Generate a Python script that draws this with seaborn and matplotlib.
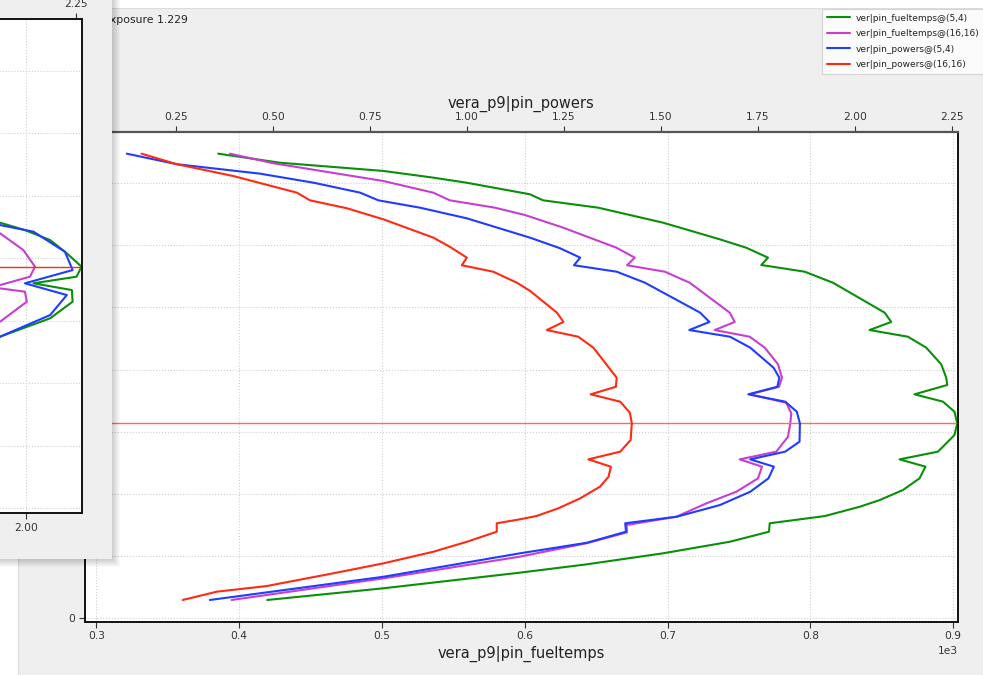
import matplotlib
matplotlib.use("Agg")
import matplotlib.pyplot as plt
import seaborn as sns
from matplotlib.patches import Rectangle

# ---------------- data ----------------
# fuel temperatures (K) vs axial height (cm)
fuel54_y = [373.9, 366.6, 360.0, 354.6, 350.5, 341.2, 336.3, 330.4, 318.3, 304.9, 298.1, 290.1, 284.2, 278.8,
            269.9, 245.8, 238.3, 231.8, 226.4, 217.6, 204.2, 193.4, 187.5, 180.0, 174.1, 166.0, 156.6, 147.2,
            133.8, 127.6, 121.7, 112.3, 102.9, 94.8, 89.4, 81.9, 76.1, 69.3, 61.2, 51.9, 43.0, 36.3, 23.7, 14.3]
fuel54_x = [385.3, 428.5, 500.8, 535.8, 559.2, 603.5, 612.8, 651.3, 696.8, 736.5, 755.1, 770.3, 765.6, 796.0,
            815.8, 852.0, 856.6, 841.4, 868.3, 881.1, 891.6, 895.1, 895.8, 872.9, 892.8, 900.9, 902.8, 900.9,
            889.3, 862.4, 880.6, 876.4, 864.8, 848.5, 834.5, 810.0, 771.5, 771.0, 743.5, 696.8, 643.2, 596.5,
            500.8, 419.6]
fuel1616_y = [373.9, 366.2, 351.9, 342.5, 336.3, 330.4, 324.5, 314.3, 298.1, 290.1, 284.0, 278.8, 269.9, 245.8,
              238.3, 231.8, 226.4, 217.6, 204.2, 193.4, 186.1, 180.0, 173.2, 164.7, 156.6, 145.8, 133.8, 127.6,
              121.7, 112.3, 101.5, 92.2, 81.4, 74.7, 68.8, 60.0, 49.2, 31.7, 14.3]
fuel1616_x = [393.5, 423.8, 500.8, 535.8, 547.5, 579.0, 600.0, 626.8, 664.2, 677.0, 671.6, 698.0, 715.5, 743.5,
              747.0, 733.0, 757.5, 768.0, 777.3, 780.1, 778.0, 757.5, 783.1, 786.6, 785.9, 784.3, 776.1, 750.5,
              766.1, 763.3, 748.1, 727.2, 706.2, 671.2, 671.6, 643.2, 596.5, 500.8, 394.7]
# pin powers vs axial height
pow54_y = [373.9, 365.4, 357.8, 350.5, 342.5, 336.3, 330.4, 321.8, 306.2, 297.7, 290.1, 284.0, 278.8, 269.9,
           245.8, 238.3, 231.8, 226.4, 217.6, 201.5, 193.4, 186.1, 180.0, 174.1, 166.0, 156.6, 141.8, 133.8,
           127.6, 121.7, 112.3, 101.5, 90.8, 81.4, 76.1, 69.3, 60.4, 51.9, 33.0, 14.3]
pow54_x = [0.124, 0.253, 0.467, 0.605, 0.725, 0.772, 0.879, 1.000, 1.163, 1.240, 1.292, 1.276, 1.386, 1.459,
           1.601, 1.625, 1.573, 1.678, 1.730, 1.790, 1.805, 1.800, 1.725, 1.820, 1.850, 1.858, 1.857, 1.820,
           1.730, 1.791, 1.777, 1.730, 1.652, 1.541, 1.408, 1.410, 1.309, 1.137, 0.785, 0.338]
pow1616_y = [373.9, 365.4, 355.9, 342.5, 336.3, 329.9, 321.0, 306.2, 298.7, 290.1, 284.0, 278.8, 269.9, 263.3,
             245.8, 238.3, 231.8, 226.4, 217.6, 193.4, 186.1, 180.0, 174.1, 165.2, 156.6, 143.2, 133.8, 127.6,
             121.7, 113.6, 105.6, 96.2, 88.2, 82.0, 79.3, 76.1, 69.3, 61.2, 53.2, 43.8, 35.8, 25.5, 21.0, 14.3]
pow1616_x = [0.162, 0.253, 0.398, 0.562, 0.596, 0.691, 0.785, 0.914, 0.957, 1.000, 0.987, 1.068, 1.129, 1.163,
             1.232, 1.249, 1.206, 1.287, 1.326, 1.386, 1.384, 1.319, 1.395, 1.420, 1.425, 1.422, 1.395, 1.313,
             1.371, 1.365, 1.343, 1.292, 1.236, 1.180, 1.137, 1.077, 1.077, 1.000, 0.914, 0.785, 0.656, 0.484,
             0.356, 0.268]
selected_level = 156.6
labels = ["ver|pin_fueltemps@(5,4)", "ver|pin_fueltemps@(16,16)",
          "ver|pin_powers@(5,4)", "ver|pin_powers@(16,16)"]
colors = ["#0a8f0a", "#c63fd0", "#1f3cff", "#ff2a12"]
bottom_ticks = [300, 400, 500, 600, 700, 800, 900]
top_ticks = [0.25, 0.50, 0.75, 1.00, 1.25, 1.50, 1.75, 2.00, 2.25]
y_ticks = [0, 50, 100, 150, 200, 250, 300, 350]
y_ticklabels = ["0", "", "", "", "", "", "", ""]
exposure_text = "Exposure 1.229"

# overlapping second window (partially visible plot)
ov_green_x = [1.831, 1.934, 1.998, 2.063, 2.106, 2.144, 2.131, 2.020, 2.119, 2.121, 2.063, 1.934, 1.831]
ov_green_y = [238.6, 228.5, 222.6, 214.6, 204.0, 193.3, 185.3, 180.0, 174.6, 165.3, 152.0, 137.3, 125.5]
ov_blue_x = [1.831, 1.934, 2.020, 2.101, 2.121, 1.998, 2.106, 2.063, 1.934, 1.831]
ov_blue_y = [236.0, 226.6, 221.3, 205.3, 190.6, 180.0, 170.6, 154.6, 137.3, 126.0]
ov_mag_x = [1.831, 1.934, 1.994, 2.024, 2.011, 1.934, 1.908, 1.998, 2.003, 1.934, 1.831]
ov_mag_y = [232.0, 220.0, 206.6, 193.3, 185.3, 178.6, 177.0, 173.3, 165.3, 149.3, 137.0]
ov_level = 193.3

# ---------------- figure ----------------
sns.set_style("ticks")
plt.rcParams["font.family"] = ["DejaVu Sans"]

W, H = 983, 675
fig = plt.figure(figsize=(W / 100, H / 100), dpi=100, facecolor="white")


def fx(px):
    return px / W


def fy(py):
    return 1 - py / H


# background window
bg = fig.add_axes([0, 0, 1, 1])
bg.set_axis_off()
bg.set_xlim(0, W)
bg.set_ylim(H, 0)
bg.set_zorder(0)
bg.add_patch(Rectangle((18, 8), W - 18, H - 8, fc="#efefef", ec="#dcdcdc", lw=0.8))
bg.text(103, 20, exposure_text, fontsize=7.8, va="center", ha="left", color="#222222")

# main axes
ax = fig.add_axes([fx(85), fy(621.7), fx(957.5) - fx(85), (621.7 - 131.7) / H])
ax.set_zorder(2)
ax.set_facecolor("white")
ax2 = ax.twiny()
ax2.set_zorder(3)
ax2.patch.set_visible(False)

lw = 1.5
sns.lineplot(x=fuel54_x, y=fuel54_y, sort=False, estimator=None, ax=ax, color=colors[0],
             lw=lw, label=labels[0], legend=False)
sns.lineplot(x=fuel1616_x, y=fuel1616_y, sort=False, estimator=None, ax=ax, color=colors[1],
             lw=lw, label=labels[1], legend=False)
sns.lineplot(x=pow54_x, y=pow54_y, sort=False, estimator=None, ax=ax2, color=colors[2],
             lw=lw, label=labels[2], legend=False)
sns.lineplot(x=pow1616_x, y=pow1616_y, sort=False, estimator=None, ax=ax2, color=colors[3],
             lw=lw, label=labels[3], legend=False)
ax.axhline(selected_level, color="#ff6a5a", lw=1.0, zorder=5)

ax.set_xlim(292, 903)
ax.set_ylim(-3.2, 391.6)
ax2.set_xlim(0.0163, 2.264)
ax2.set_ylim(-3.2, 391.6)
ax.set_xticks(bottom_ticks)
ax.set_yticks(y_ticks)
ax.set_yticklabels(y_ticklabels)
ax.ticklabel_format(axis="x", style="sci", scilimits=(3, 3))
ax2.set_xticks(top_ticks)
ax2.set_xticklabels([f"{t:.2f}" for t in top_ticks])

ax.grid(True, ls=":", color="#cfcfcf", lw=0.8)
ax2.grid(False)
for a in (ax, ax2):
    a.tick_params(direction="out", length=4, width=0.8, labelsize=7.7, colors="#333333",
                  labelcolor="#333333", pad=3)
    for s in a.spines.values():
        s.set_color("#111111")
        s.set_linewidth(1.2)
ax2.spines["top"].set_color("#555555")
ax2.spines["top"].set_linewidth(1.6)
ax.xaxis.get_offset_text().set_fontsize(7.7)
ax.xaxis.get_offset_text().set_color("#333333")
ax.set_xlabel("vera_p9|pin_fueltemps", fontsize=10.5, color="#222222", labelpad=3)
ax2.set_xlabel("vera_p9|pin_powers", fontsize=10.5, color="#222222", labelpad=3)
ax.set_ylabel("")

# legend
h1, l1 = ax.get_legend_handles_labels()
h2, l2 = ax2.get_legend_handles_labels()
leg = fig.legend(h1 + h2, l1 + l2, loc="upper left", bbox_to_anchor=(fx(822), fy(9)),
                 fontsize=6.5, frameon=True, fancybox=False, edgecolor="#cccccc",
                 handlelength=2.6, borderpad=0.5, labelspacing=0.72, handletextpad=0.6,
                 borderaxespad=0)
leg.get_frame().set_linewidth(0.8)
for t in leg.get_texts():
    t.set_color("#222222")

# overlapping window in the top-left corner
ovbg = fig.add_axes([0, 0, 1, 1])
ovbg.set_axis_off()
ovbg.set_xlim(0, W)
ovbg.set_ylim(H, 0)
ovbg.set_zorder(6)
ovbg.patch.set_visible(False)
for i in range(8, 0, -1):
    ovbg.add_patch(Rectangle((0, 0), 112 + i, 559 + i, fc="black", ec="none", alpha=0.025))
ovbg.add_patch(Rectangle((0, 0), 112, 559, fc="#efefef", ec="none"))

ov = fig.add_axes([fx(-300), fy(513.3), (82.3 + 300) / W, (513.3 - 18.7) / H])
ov.set_zorder(7)
ov.set_facecolor("white")
ov2 = ov.twiny()
ov2.set_zorder(8)
ov2.patch.set_visible(False)
sns.lineplot(x=ov_green_x, y=ov_green_y, sort=False, estimator=None, ax=ov, color=colors[0], lw=lw)
sns.lineplot(x=ov_mag_x, y=ov_mag_y, sort=False, estimator=None, ax=ov, color=colors[1], lw=lw)
sns.lineplot(x=ov_blue_x, y=ov_blue_y, sort=False, estimator=None, ax=ov, color=colors[2], lw=lw)
ov.axhline(ov_level, color="#ff2a12", lw=1.0)
ov.set_xlim(1.1606, 2.1459)
ov.set_ylim(-4, 391.7)
ov2.set_xlim(1.2817, 2.267)
ov.set_xticks([2.00])
ov.set_xticklabels(["2.00"])
ov2.set_xticks([2.25])
ov2.set_xticklabels(["2.25"])
ov.set_yticks(y_ticks)
ov.set_yticklabels([])
ov.grid(True, ls=":", color="#cfcfcf", lw=0.8)
for a in (ov, ov2):
    a.tick_params(direction="out", length=4, width=0.8, labelsize=7.7, colors="#333333",
                  labelcolor="#333333", pad=3)
    for s in a.spines.values():
        s.set_color("#111111")
        s.set_linewidth(1.2)

fig.savefig("out.png", dpi=100, facecolor="white")
